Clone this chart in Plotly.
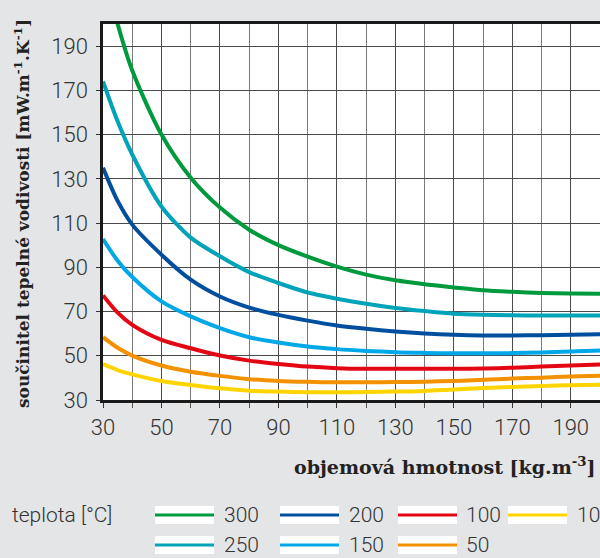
import plotly.graph_objects as go

x_density = [30, 35, 40, 50, 60, 70, 80, 90, 100, 110, 120, 130, 140, 150, 160, 170, 180, 190, 200]

temps = ["300", "250", "200", "150", "100", "50", "10"]
colors = ["#009a3e", "#00a3b8", "#004f9f", "#00a8e8", "#e30613", "#f39200", "#ffd400"]

k_300 = [226, 200, 179, 150, 130.5, 117, 107, 100, 94.8, 90.3, 86.7, 84.1, 82.3, 80.9, 79.6, 78.9, 78.4, 78.1, 78.0]
k_250 = [174, 156, 141, 117.5, 103.4, 95, 87.8, 82.9, 78.6, 75.8, 73.5, 71.6, 70.2, 69.0, 68.5, 68.3, 68.2, 68.2, 68.2]
k_200 = [135, 120, 109.3, 95.7, 84.4, 76.8, 71.8, 68.5, 65.9, 63.7, 62.2, 61.0, 60.1, 59.5, 59.2, 59.2, 59.3, 59.5, 59.7]
k_150 = [102.8, 93, 85.6, 74.6, 67.8, 62.5, 58.4, 56.0, 54.2, 53.0, 52.2, 51.6, 51.3, 51.1, 51.1, 51.2, 51.5, 51.9, 52.4]
k_100 = [77.3, 69.5, 64.0, 57.2, 53.4, 50.1, 47.8, 46.3, 45.1, 44.4, 44.1, 44.1, 44.1, 44.1, 44.2, 44.6, 45.1, 45.6, 46.0]
k_50 = [58.4, 53.6, 50.1, 45.6, 42.8, 40.9, 39.4, 38.6, 38.2, 38.0, 38.0, 38.1, 38.3, 38.6, 39.1, 39.7, 40.1, 40.6, 41.0]
k_10 = [46.2, 43.5, 41.6, 38.6, 36.8, 35.3, 34.2, 33.8, 33.5, 33.5, 33.6, 33.8, 34.1, 34.8, 35.4, 35.9, 36.3, 36.7, 36.9]
series = [k_300, k_250, k_200, k_150, k_100, k_50, k_10]

x_ticks = [30, 50, 70, 90, 110, 130, 150, 170, 190]
y_ticks = [30, 50, 70, 90, 110, 130, 150, 170, 190]

legend_title = "teplota [°C]"
x_title = "<b>objemová hmotnost [kg.m<sup>-3</sup>]</b>"
y_title = "<b>součinitel tepelné vodivosti [mW.m<sup>-1</sup>.K<sup>-1</sup>]</b>"

TXT = "#333333"
TICKFONT = dict(family="Roboto", size=22, color=TXT, weight=300)
LEGFONT = dict(family="Roboto", size=21, color=TXT, weight=300)

fig = go.Figure()
for name, vals, col in zip(temps, series, colors):
    fig.add_trace(go.Scatter(x=x_density, y=vals, mode="lines", name=name,
                             line=dict(color=col, width=4, shape="spline", smoothing=0.8),
                             showlegend=False, hoverinfo="skip"))

L, T, B = 103, 24, 400
fig.update_layout(
    width=600, height=558,
    margin=dict(l=L, r=0, t=T, b=558 - B),
    paper_bgcolor="#e4e5e7", plot_bgcolor="#ffffff",
    showlegend=False,
)
fig.update_xaxes(
    range=[30, 200], tickvals=x_ticks, ticks="outside", ticklen=5, tickcolor="#333",
    tickwidth=1.3, tickfont=TICKFONT, ticklabelstandoff=1,
    showgrid=True, gridcolor="#4a4a4a", gridwidth=1.3,
    minor=dict(dtick=10, tick0=30, showgrid=True, gridcolor="#7a7a7a", gridwidth=1.3,
               ticks="outside", ticklen=5, tickcolor="#555"),
    showline=True, linecolor="#1a1a1a", linewidth=2.5, mirror=True, zeroline=False,
)
fig.update_yaxes(
    range=[30, 200], tickvals=y_ticks, ticks="outside", ticklen=4, tickcolor="#333",
    tickwidth=1.3, tickfont=TICKFONT, ticklabelstandoff=4,
    showgrid=True, gridcolor="#4a4a4a", gridwidth=1.3,
    showline=True, linecolor="#1a1a1a", linewidth=2.5, zeroline=False,
)

W_plot = 600 - L
H_plot = B - T
def px(xp):
    return (xp - L) / W_plot
def py(yp):
    return (B - yp) / H_plot

ann = [
    dict(text=y_title, x=px(22), y=py(214), xref="paper", yref="paper", showarrow=False,
         textangle=-90, xanchor="center", yanchor="middle",
         font=dict(family="DejaVu Serif", size=17, color="#222222")),
    dict(text=x_title, x=px(598), y=py(466), xref="paper", yref="paper", showarrow=False,
         xanchor="right", yanchor="middle",
         font=dict(family="DejaVu Serif", size=19, color="#222222")),
    dict(text=legend_title, x=px(10), y=py(515), xref="paper", yref="paper",
         showarrow=False, xanchor="left", yanchor="middle", font=LEGFONT),
]

shapes = []
rect_x = [155, 280, 398, 508]
text_x = [222, 347, 464, 575]
row_y = [515, 545]
for i, (name, col) in enumerate(zip(temps, colors)):
    col_i, row_i = i // 2, i % 2
    x0 = rect_x[col_i]
    yc = row_y[row_i]
    shapes.append(dict(type="rect", xref="paper", yref="paper",
                       x0=px(x0), x1=px(x0 + 59), y0=py(yc + 9), y1=py(yc - 9),
                       fillcolor="#ffffff", line=dict(width=0), layer="above"))
    shapes.append(dict(type="line", xref="paper", yref="paper",
                       x0=px(x0), x1=px(x0 + 59), y0=py(yc), y1=py(yc),
                       line=dict(color=col, width=3), layer="above"))
    ann.append(dict(text=name, x=px(text_x[col_i]), y=py(yc), xref="paper", yref="paper",
                    showarrow=False, xanchor="left", yanchor="middle", font=LEGFONT))

fig.update_layout(annotations=ann, shapes=shapes)
fig.write_html("out.html", config={"displayModeBar": False},
               post_script="document.body.style.margin='0';document.body.style.background='#e4e5e7';")
